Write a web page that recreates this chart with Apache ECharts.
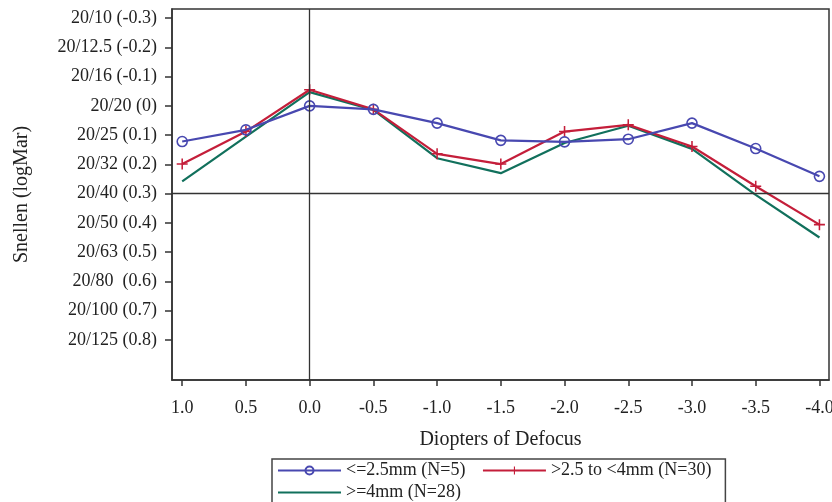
<!DOCTYPE html>
<html>
<head>
<meta charset="utf-8">
<script src="https://cdn.jsdelivr.net/npm/echarts@6/dist/echarts.min.js"></script>
<style>html,body{margin:0;padding:0;background:#fff}#c{width:832px;height:502px}</style>
</head>
<body>
<div id="c"></div>
<script>
var diopters = [1.0, 0.5, 0.0, -0.5, -1.0, -1.5, -2.0, -2.5, -3.0, -3.5, -4.0];
var smallPupil = [0.122, 0.082, 0.000, 0.012, 0.059, 0.118, 0.123, 0.114, 0.059, 0.146, 0.241];
var midPupil = [0.199, 0.088, -0.055, 0.012, 0.164, 0.199, 0.088, 0.065, 0.139, 0.275, 0.406];
var largePupil = [0.258, 0.105, -0.047, 0.014, 0.179, 0.230, 0.127, 0.068, 0.147, 0.304, 0.450];
var seriesNames = ['<=2.5mm (N=5)', '>2.5 to <4mm (N=30)', '>=4mm (N=28)'];
var yTickValues = [-0.3, -0.2, -0.1, 0, 0.1, 0.2, 0.3, 0.4, 0.5, 0.6, 0.7, 0.8];
var yTickLabels = ['20/10 (-0.3)', '20/12.5 (-0.2)', '20/16 (-0.1)', '20/20 (0)', '20/25 (0.1)', '20/32 (0.2)', '20/40 (0.3)', '20/50 (0.4)', '20/63 (0.5)', '20/80  (0.6)', '20/100 (0.7)', '20/125 (0.8)'];
var xTickValues = [1.0, 0.5, 0.0, -0.5, -1.0, -1.5, -2.0, -2.5, -3.0, -3.5, -4.0];

function pairs(ys) { return diopters.map(function (d, i) { return [d, ys[i]]; }); }

var FONT = '"Liberation Serif", "DejaVu Serif", serif';
var AX = '#333';
var chart = echarts.init(document.getElementById('c'), null, { renderer: 'canvas' });
chart.setOption({
  animation: false,
  textStyle: { fontFamily: FONT },
  grid: { left: 172, right: 3, top: 9, bottom: 122, containLabel: false, outerBoundsMode: 'none',
    show: true, borderColor: AX, borderWidth: 1.5, backgroundColor: 'transparent' },
  legend: {
    data: [
      { name: seriesNames[0] },
      { name: seriesNames[1] },
      { name: seriesNames[2], itemStyle: { color: 'rgba(0,0,0,0)', borderColor: 'rgba(0,0,0,0)', borderWidth: 0 } }
    ],
    left: 272, top: 459, width: 450,
    orient: 'horizontal',
    itemWidth: 63, itemHeight: 10, itemGap: 3,
    padding: [2, 14, 2, 5],
    borderColor: '#444', borderWidth: 1.5,
    formatter: function (n) { return n === seriesNames[0] ? n + '   ' : n; },
    textStyle: { fontFamily: FONT, fontSize: 18, lineHeight: 19, color: '#222' }
  },
  xAxis: {
    type: 'value', inverse: true, min: -4.075, max: 1.08,
    name: 'Diopters of Defocus', nameLocation: 'middle', nameGap: 50,
    nameTextStyle: { fontFamily: FONT, fontSize: 20, color: '#222' },
    axisLine: { show: true, onZero: false, lineStyle: { color: AX, width: 1.5 } },
    axisTick: { show: true, length: 6, lineStyle: { color: AX, width: 1.5 }, customValues: xTickValues },
    axisLabel: { margin: 19, fontSize: 18, color: '#222', fontFamily: FONT, customValues: xTickValues,
      formatter: function (v) { return v.toFixed(1); } },
    splitLine: { show: false }
  },
  yAxis: {
    type: 'value', inverse: true, min: -0.331, max: 0.937,
    name: 'Snellen (logMar)', nameLocation: 'middle', nameGap: 140, nameRotate: 90,
    nameTextStyle: { fontFamily: FONT, fontSize: 20, color: '#222' },
    axisLine: { show: true, onZero: false, lineStyle: { color: AX, width: 1.5 } },
    axisTick: { show: true, length: 7, lineStyle: { color: AX, width: 1.5 }, customValues: yTickValues },
    axisLabel: { margin: 15, fontSize: 18, color: '#222', fontFamily: FONT, customValues: yTickValues,
      formatter: function (v) {
        var best = 0;
        for (var i = 0; i < yTickValues.length; i++) {
          if (Math.abs(yTickValues[i] - v) < Math.abs(yTickValues[best] - v)) best = i;
        }
        return yTickLabels[best];
      } },
    splitLine: { show: false }
  },
  series: [
    {
      name: seriesNames[0], type: 'line', data: pairs(smallPupil), z: 4,
      symbol: 'circle', symbolSize: 10, showAllSymbol: true,
      lineStyle: { color: '#4848b0', width: 2.2 },
      itemStyle: { color: 'rgba(255,255,255,0)', borderColor: '#4848b0', borderWidth: 1.6 },
      markLine: {
        silent: true, symbol: ['none', 'none'], label: { show: false },
        lineStyle: { color: '#333', width: 1.3, type: 'solid' },
        data: [{ xAxis: 0 }, { yAxis: 0.3 }]
      }
    },
    {
      name: seriesNames[1], type: 'line', data: pairs(midPupil), z: 3,
      symbol: 'path://M4.3,0h1.4v10h-1.4z M0,4.3h10v1.4h-10z', symbolSize: 11, showAllSymbol: true,
      lineStyle: { color: '#c41e3a', width: 2.2 },
      itemStyle: { color: '#c41e3a' }
    },
    {
      name: seriesNames[2], type: 'line', data: pairs(largePupil), z: 2,
      symbol: 'none',
      lineStyle: { color: '#11705c', width: 2.2 },
      itemStyle: { color: '#11705c' }
    }
  ]
});
</script>
</body>
</html>
